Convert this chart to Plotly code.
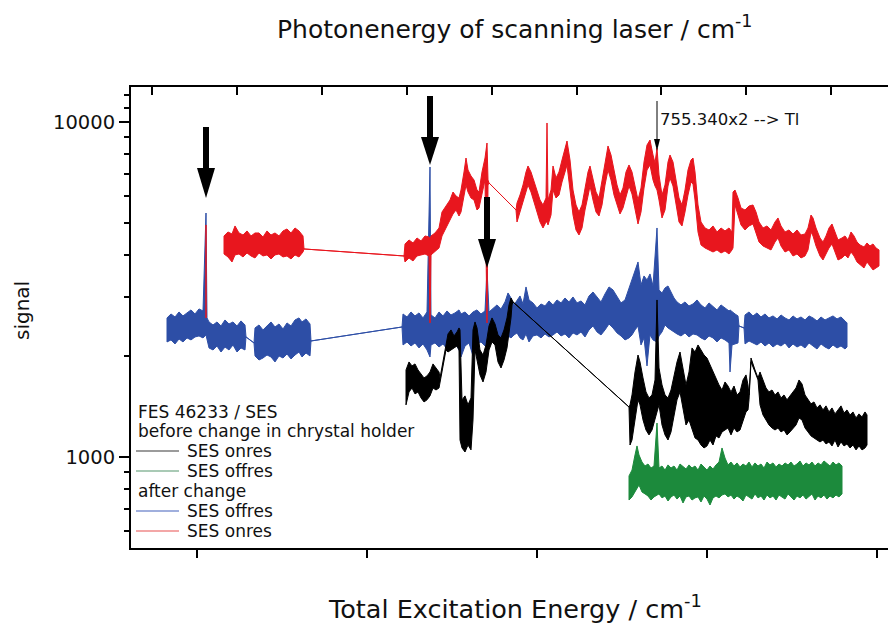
import plotly.graph_objects as go

# x: relative total excitation energy (cm^-1, arbitrary offset; the original shows no tick labels)
# signal: counts (log scale).  Each noisy scan is stored as its upper / lower envelope,
# segments separated by None.

# ---- after change: SES onres (red) ----
red_x = [9, None,
         27, 31, 35, 38, 42, 46, 50, 54, 58, 62, 66, 70, 74, 78, 82, 86, 90, 94, 98, 102, 106, 107,
         207, 208, 212, 216, 220, 224, 228, 232, 233, 234, 238, 242, 245, 249, 253, 256, 259, 262,
         264, 267, 269, 271, 274, 277, 280, 282, 285, 288, 290, 291, 292, 319, 320, 323, 326, 329,
         331, 334, 337, 340, 343, 346, 349, 350, 351, 354, 356, 359, 362, 365, 368, 370, 373, 376,
         379, 382, 385, 388, 391, 393, 396, 399, 402, 405, 408, 411, 414, 417, 420, 423, 426, 429,
         432, 435, 438, 441, 444, 447, 450, 453, 456, 458, 460, 462, 465, 468, 471, 473, 476, 479,
         482, 485, 488, 491, 494, 496, 498, 501, 504, 508, 512, 516, 520, 524, 528, 532, 535, 536,
         538, 541, 544, 548, 552, 556, 559, 562, 566, 570, 574, 578, 581, 584, 588, 592, 596, 600,
         604, 608, 611, 614, 616, 619, 623, 626, 629, 632, 635, 638, 641, 645, 648, 651, 654, 657,
         660, 663, 667, 670, 673, 676, 679, 682]
red_hi = [4928, None,
          4569, 4696, 4632, 4894, 4664, 4600, 4729, 4569, 4664, 4664, 4537, 4729, 4600, 4664, 4569, 4729, 4794, 4664, 4827, 4729, 4569, 4178,
          3982, 4324, 4445, 4354, 4506, 4414, 4569, 4537, 4445, 4569, 4664, 4827, 5387, 5614, 5851, 6181, 6013, 5931,
          6267, 7092, 7808, 7190, 6900, 6713, 6267, 6181, 7092, 7808, 8656, 6713, 6576, 5462, 5731, 6055, 6486, 7092,
          7391, 7092, 6621, 6181, 5851, 5653, 5931, 9932, 5851, 6267, 7391, 6806, 7092, 7702, 8364, 8776, 7702, 6267,
          5653, 5387, 5653, 6353, 7092, 7391, 6806, 6181, 5931, 6621, 7596, 8480, 7971, 7190, 6486, 6055, 6353, 7092,
          7442, 7092, 6486, 5851, 6353, 7596, 8538, 8836, 7971, 7545, 8364, 6947, 6055, 6486, 7596, 7971, 7596, 6713,
          5931, 5653, 6267, 7190, 7702, 7808, 7092, 5653, 5030, 4827, 4761, 4894, 4696, 4827, 4729, 4827, 4696, 6181,
          6267, 5931, 5538, 5462, 5614, 5653, 5387, 5030, 4827, 4894, 4761, 5030, 5170, 4894, 4696, 4761, 4632, 4761,
          4600, 4632, 4827, 5277, 5170, 4827, 4506, 4384, 4569, 4827, 4961, 4696, 4445, 4506, 4569, 4445, 4696, 4569,
          4384, 4295, 4236, 4354, 4265, 4324, 4207, 4150]
red_lo = [2601, None,
          4037, 3955, 3821, 4010, 4037, 3955, 4065, 3982, 3928, 4065, 3982, 4010, 3901, 4010, 4037, 3955, 3982, 3901, 4010, 3955, 4093, 4178,
          3982, 3821, 3928, 3848, 3982, 4010, 4037, 3982, 2513, 4010, 4093, 4207, 4569, 4827, 5100, 5314, 5462, 5241,
          5387, 6013, 6486, 6181, 5931, 5851, 5462, 5538, 6055, 6713, 2513, 6486, 6576, 5462, 5030, 5387, 5771, 6181,
          6486, 6181, 5851, 5387, 5030, 4827, 5030, 5030, 4928, 5277, 6267, 5931, 6055, 6621, 7092, 7442, 6267, 5277,
          4761, 4600, 4827, 5462, 6013, 6441, 5851, 5387, 5241, 5653, 6486, 7190, 6713, 6055, 5653, 5314, 5538, 6013,
          6441, 6096, 5538, 4961, 5387, 6353, 7190, 7442, 6713, 6441, 6267, 5851, 5170, 5462, 6441, 6806, 6441, 5653,
          5030, 4894, 5387, 6055, 6621, 6531, 5851, 4696, 4295, 4207, 4150, 4093, 4150, 4065, 4121, 4037, 4150, 4207,
          5653, 5277, 4928, 4761, 4894, 4961, 4696, 4384, 4265, 4207, 4150, 4384, 4506, 4265, 4093, 4150, 3982, 4037,
          3928, 3982, 4150, 4696, 4569, 4265, 3982, 3874, 4037, 4207, 4324, 4093, 3874, 3928, 4010, 3928, 4093, 3982,
          3821, 3743, 3667, 3821, 3718, 3617, 3667, 3718]

# ---- after change: SES offres (blue) ----
blue_x = [-30, -26, -22, -18, -14, -10, -6, -2, 2, 6, 9, 10, 12, 16, 20, 24, 28, 32, 36, 40, 44, 48, 49,
          57, 58, 62, 66, 70, 74, 78, 82, 86, 90, 94, 98, 102, 105, 109, 113, 114, 205,
          206, 210, 214, 218, 222, 226, 230, 233, 234, 238, 242, 246, 250, 254, 258, 262, 264, 268, 272,
          276, 280, 284, 288, 290, 292, 296, 300, 304, 308, 311, 314, 317, 320, 323, 326, 329, 332, 336,
          340, 344, 348, 352, 356, 360, 364, 368, 372, 376, 380, 384, 388, 392, 396, 400, 404, 408, 412,
          416, 420, 424, 428, 432, 435, 438, 441, 444, 447, 450, 453, 456, 460, 462, 465, 468, 471, 474,
          477, 480, 484, 488, 492, 496, 500, 504, 508, 512, 516, 520, 524, 528, 532, 533, 535, 538, 541,
          542, 547, 548, 552, 556, 560, 564, 568, 572, 576, 580, 584, 588, 592, 596, 600, 604, 608, 612,
          616, 620, 624, 628, 632, 636, 640, 644, 648, 650]
blue_hi = [2601, 2673, 2618, 2710, 2637, 2692, 2748, 2673, 2767, 2729, 5350, 2601, 2530, 2478, 2530, 2461, 2565, 2495, 2530, 2461, 2548, 2478, 2282,
           2190, 2428, 2478, 2395, 2461, 2530, 2444, 2495, 2411, 2513, 2461, 2565, 2601, 2530, 2583, 2495, 2220, 2444,
           2673, 2618, 2710, 2637, 2692, 2601, 2710, 7340, 2655, 2601, 2710, 2637, 2729, 2655, 2692, 2748, 2673, 2710, 2637,
           2710, 2748, 2673, 2729, 3642, 2710, 2786, 2844, 2767, 2903, 3088, 2983, 2844, 2943, 3025, 2863, 3218, 2943, 2883,
           2786, 2863, 2824, 2923, 2844, 2943, 2883, 2983, 2903, 3004, 2883, 2923, 2844, 3025, 3109, 3004, 2903, 3067, 3218,
           3153, 3025, 2883, 2943, 3196, 3377, 3567, 3821, 3263, 3471, 3377, 3519, 3240, 4827, 3153, 3088, 3196, 3240, 3109,
           2983, 2903, 2844, 2903, 2824, 2863, 2943, 2844, 2786, 2883, 2805, 2748, 2844, 2786, 2729, 2748, 2710, 2673, 2637,
           2461, 2428, 2655, 2710, 2637, 2692, 2618, 2673, 2601, 2637, 2583, 2655, 2601, 2565, 2637, 2583, 2618, 2565, 2637,
           2601, 2548, 2618, 2565, 2601, 2637, 2583, 2618, 2548, 2513]
blue_lo = [2205, 2236, 2175, 2251, 2205, 2267, 2236, 2282, 2298, 2267, 2314, 2236, 2116, 2087, 2145, 2058, 2130, 2087, 2160, 2058, 2116, 2087, 2282,
           2190, 2003, 1948, 1975, 2016, 1989, 1922, 2003, 1975, 2030, 1962, 2016, 2058, 1989, 2044, 2003, 2220, 2444,
           2160, 2205, 2145, 2190, 2116, 2175, 2087, 1989, 2160, 2190, 2130, 2175, 2101, 2160, 2190, 2087, 1989, 2145, 2190,
           2003, 2175, 2205, 2145, 2160, 2190, 2236, 2205, 2267, 2236, 2298, 2267, 2314, 2346, 2267, 2236, 2330, 2205, 2298,
           2314, 2267, 2330, 2282, 2314, 2362, 2298, 2330, 2267, 2346, 2314, 2362, 2282, 2395, 2461, 2362, 2314, 2395, 2495,
           2428, 2346, 2298, 2236, 2267, 2314, 2395, 2461, 2160, 2267, 1870, 2314, 2236, 2205, 2298, 2362, 2478, 2428, 2395,
           2362, 2330, 2298, 2346, 2282, 2330, 2314, 2267, 2236, 2298, 2267, 2205, 2267, 2236, 2190, 1794, 2160, 2175, 2190,
           2461, 2428, 2175, 2220, 2190, 2160, 2205, 2145, 2190, 2130, 2175, 2145, 2190, 2116, 2175, 2130, 2160, 2116, 2190,
           2145, 2101, 2175, 2130, 2101, 2160, 2116, 2145, 2101, 2130]

# ---- before change in crystal holder: SES onres (black) ----
black_x = [209, 212, 215, 218, 221, 224, 227, 230, 233, 236, 239, 242, 243, 249, 251, 254, 257, 260, 262, 263,
           265, 268, 271, 274, 276, 278, 280, 283, 286, 289, 292, 295, 298, 301, 304, 307, 310, 312, 314, 315,
           316, 432, 433, 435, 438, 441, 443, 446, 449, 452, 455, 458, 460, 462, 465, 468, 471, 474, 477, 480,
           483, 486, 489, 492, 495, 498, 501, 504, 507, 510, 513, 516, 519, 522, 525, 528, 531, 534, 537, 540,
           543, 546, 549, 551, 552, 554, 558, 561, 563, 566, 569, 572, 575, 578, 581, 584, 587, 590, 593, 596,
           599, 602, 605, 608, 611, 614, 617, 620, 623, 626, 629, 632, 635, 638, 641, 644, 647, 650, 653, 656,
           659, 662, 665, 668, 670]
black_hi = [1819, 1922, 1870, 1896, 1819, 1770, 1722, 1746, 1794, 1896, 1844, 1794, 1722, 2160, 2330, 2395, 2298, 2362, 2428, 2395,
            1481, 1522, 1431, 1501, 2395, 2530, 2428, 2087, 2016, 2160, 2461, 2601, 2495, 2314, 2267, 2395, 2601, 2844, 2983, 2943,
            2903, 1410, 1431, 1532, 1794, 2016, 1922, 1722, 1564, 1501, 1532, 1698, 2943, 1844, 1641, 1532, 1501, 1585, 1758, 1922,
            2058, 1844, 1641, 1794, 2116, 2058, 2160, 2087, 2016, 1975, 1883, 1794, 1722, 1641, 1585, 1675, 1629, 1564, 1629, 1532,
            1564, 1698, 1758, 1641, 1532, 1975, 1819, 1722, 1794, 1698, 1607, 1564, 1585, 1532, 1564, 1501, 1532, 1481, 1522, 1564,
            1607, 1698, 1652, 1532, 1481, 1441, 1460, 1401, 1431, 1382, 1421, 1363, 1401, 1345, 1382, 1421, 1354, 1382, 1335, 1363,
            1308, 1345, 1317, 1363, 1335]
black_lo = [1431, 1564, 1607, 1543, 1564, 1501, 1460, 1481, 1522, 1607, 1585, 1607, 1652, 2087, 2058, 2087, 2116, 2145, 2087, 1124,
            1064, 1035, 1086, 1050, 1290, 2087, 1948, 1758, 1675, 1794, 2087, 2205, 2160, 1922, 1844, 1948, 2116, 2362, 2601, 2844,
            2903, 1410, 1086, 1124, 1290, 1481, 1431, 1290, 1204, 1164, 1204, 1290, 1363, 1431, 1246, 1164, 1124, 1188, 1308, 1481,
            1564, 1382, 1246, 1290, 1204, 1140, 1124, 1086, 1064, 1079, 1124, 1086, 1156, 1140, 1188, 1204, 1221, 1164, 1221, 1188,
            1204, 1290, 1363, 1382, 1481, 1922, 1794, 1698, 1431, 1335, 1290, 1246, 1221, 1204, 1221, 1188, 1204, 1164, 1188, 1221,
            1246, 1308, 1290, 1221, 1188, 1156, 1140, 1124, 1109, 1124, 1094, 1109, 1079, 1124, 1071, 1109, 1079, 1094, 1064, 1086,
            1050, 1079, 1050, 1064, 1086]

# ---- before change in crystal holder: SES offres (green) ----
green_x = [432, 435, 438, 440, 442, 445, 448, 451, 454, 457, 460, 462, 465, 468, 471, 474, 477, 480, 483, 486,
           489, 492, 495, 498, 501, 504, 507, 510, 513, 516, 519, 522, 525, 528, 531, 534, 537, 540, 543, 546,
           549, 552, 555, 558, 561, 564, 567, 570, 573, 576, 579, 582, 585, 588, 591, 594, 597, 600, 603, 606,
           609, 612, 615, 618, 621, 624, 627, 630, 633, 636, 639, 642, 645]
green_hi = [878, 914, 1014, 1079, 1014, 966, 940, 953, 927, 940, 1263, 927, 940, 914, 947, 927, 940, 914, 953, 934,
            921, 947, 927, 940, 914, 953, 934, 914, 940, 921, 947, 966, 1064, 993, 947, 966, 940, 960, 934, 953,
            940, 966, 934, 960, 940, 953, 927, 966, 947, 960, 934, 953, 940, 960, 947, 966, 940, 953, 973, 940,
            960, 947, 966, 940, 960, 947, 973, 953, 940, 966, 947, 960, 940]
green_lo = [744, 760, 786, 808, 825, 786, 776, 765, 744, 760, 770, 776, 755, 765, 739, 760, 770, 749, 765, 729,
            760, 765, 744, 755, 760, 734, 765, 749, 719, 755, 765, 755, 770, 776, 760, 770, 749, 765, 755, 739,
            770, 760, 749, 776, 755, 765, 744, 770, 755, 765, 744, 770, 760, 749, 776, 760, 744, 765, 755, 770,
            749, 760, 776, 744, 765, 755, 770, 749, 765, 755, 770, 760, 776]

bottom_ticks = [0, 170, 340, 510, 680]
top_ticks = [-45, 40, 125, 210, 295, 380, 464, 549, 634]
y_major = [1000, 10000]
y_major_text = ["1000", "10000"]
y_minor = [600, 700, 800, 900, 2000, 3000, 4000, 5000, 6000, 7000, 8000, 9000, 11000, 12000]
arrow_x = [9, 233, 290]          # positions of the big arrows
tl_line_x = 460                  # 755.340x2 --> Tl

RED = "#e8161e"
BLUE = "#2d4ea6"
BLACK = "#000000"
GREEN = "#1c8a3c"
FONT = "DejaVu Sans"

W, H = 888, 624
L, R, T, B = 131, 0, 87, 76
PW, PH = W - L - R, H - T - B


def fx(px):
    return (px - L) / PW


def fy(py):
    return (H - B - py) / PH


def band(xs, hi, lo):
    segs, cur = [], []
    for x, h, l in zip(xs, hi, lo):
        if x is None:
            segs.append(cur)
            cur = []
        else:
            cur.append((x, h, l))
    segs.append(cur)
    X, Y = [], []
    for s in segs:
        sx = [p[0] for p in s]
        sh = [p[1] for p in s]
        sl = [p[2] for p in s]
        X += sx + sx[::-1] + [sx[0], None]
        Y += sh + sl[::-1] + [sh[0], None]
    return X, Y


fig = go.Figure()
for xs, hi, lo, col, name in [
    (blue_x, blue_hi, blue_lo, BLUE, "after change SES offres"),
    (green_x, green_hi, green_lo, GREEN, "before change SES offres"),
    (black_x, black_hi, black_lo, BLACK, "before change SES onres"),
    (red_x, red_hi, red_lo, RED, "after change SES onres"),
]:
    X, Y = band(xs, hi, lo)
    fig.add_trace(go.Scatter(x=X, y=Y, mode="lines", fill="toself", fillcolor=col,
                             line=dict(color=col, width=1), name=name,
                             showlegend=False, hoverinfo="skip", connectgaps=False))

# dummy trace to activate the top axis
fig.add_trace(go.Scatter(x=[top_ticks[0]], y=[1000], xaxis="x2", mode="lines",
                         showlegend=False, hoverinfo="skip"))

shapes = []
# big black arrows: (shaft top, shaft bottom, head top, tip) in image rows
arrow_rows = [(127, 172, 168, 198), (96, 140, 137, 165), (197, 242, 239, 268)]
for ax_, (st, sb, ht, tip) in zip(arrow_x, arrow_rows):
    shapes.append(dict(type="rect", xref="x", yref="paper", x0=ax_ - 3, x1=ax_ + 3,
                       y0=fy(sb), y1=fy(st), fillcolor="black", line=dict(width=0)))
    shapes.append(dict(type="path", xref="x", yref="paper",
                       path=f"M {ax_-9},{fy(ht)} L {ax_+9},{fy(ht)} L {ax_},{fy(tip)} Z",
                       fillcolor="black", line=dict(width=0)))

# thin arrow marking the Tl line
shapes.append(dict(type="line", xref="x", yref="paper", x0=tl_line_x, x1=tl_line_x,
                   y0=fy(101), y1=fy(142), line=dict(color="black", width=1)))
shapes.append(dict(type="path", xref="x", yref="paper",
                   path=f"M {tl_line_x-3},{fy(139)} L {tl_line_x+3},{fy(139)} L {tl_line_x},{fy(151)} Z",
                   fillcolor="black", line=dict(width=0)))

# legend
leg_lines = [(451, "#7a7a7a"), (471, "#8db89c"), (511, "#8094d2"), (531, "#ef8a8a")]
for yy, c in leg_lines:
    shapes.append(dict(type="line", xref="paper", yref="paper", x0=fx(136), x1=fx(179),
                       y0=fy(yy), y1=fy(yy), line=dict(color=c, width=1.5)))

ann = []
leg_text = [(136, 412, "FES 46233 / SES"), (136, 431, "before change in chrystal holder"),
            (185, 451, "SES onres"), (185, 471, "SES offres"), (136, 491, "after change"),
            (185, 511, "SES offres"), (185, 531, "SES onres")]
for xx, yy, t in leg_text:
    ann.append(dict(xref="paper", yref="paper", x=fx(xx), y=fy(yy), text=t, showarrow=False,
                    xanchor="left", yanchor="middle", font=dict(family=FONT, size=17, color="#111")))

ann.append(dict(xref="x", yref="paper", x=tl_line_x + 1, y=fy(120), text="755.340x2 --> Tl",
                showarrow=False, xanchor="left", yanchor="middle",
                font=dict(family=FONT, size=16.5, color="#111")))

ann.append(dict(xref="paper", yref="paper", x=fx(514), y=fy(27), showarrow=False,
                text="Photonenergy of scanning laser / cm<sup>-1</sup>", xanchor="center", yanchor="middle",
                font=dict(family=FONT, size=25, color="#111")))
ann.append(dict(xref="paper", yref="paper", x=fx(515), y=fy(607), showarrow=False,
                text="Total Excitation Energy / cm<sup>-1</sup>", xanchor="center", yanchor="middle",
                font=dict(family=FONT, size=25.5, color="#111")))
ann.append(dict(xref="paper", yref="paper", x=fx(22), y=fy(310), showarrow=False, textangle=-90,
                text="signal", xanchor="center", yanchor="middle",
                font=dict(family=FONT, size=20, color="#111")))

fig.update_layout(
    width=W, height=H,
    margin=dict(l=L, r=R, t=T, b=B, pad=0),
    paper_bgcolor="white", plot_bgcolor="white",
    showlegend=False,
    shapes=shapes, annotations=ann,
    xaxis=dict(range=[-66, 691], showline=True, linecolor="black", linewidth=2,
               ticks="outside", ticklen=8, tickwidth=2, tickcolor="black",
               tickvals=bottom_ticks, showticklabels=False, showgrid=False, zeroline=False),
    xaxis2=dict(range=[-66, 691], overlaying="x", side="top", showline=True, linecolor="black",
                linewidth=2, ticks="inside", ticklen=8, tickwidth=2, tickcolor="black",
                tickvals=top_ticks, showticklabels=False, showgrid=False, zeroline=False),
    yaxis=dict(type="log", range=[2.72836, 4.10448], showline=True, linecolor="black", linewidth=2,
               ticks="outside", ticklen=10, tickwidth=2, tickcolor="black",
               tickvals=y_major, ticktext=y_major_text,
               tickfont=dict(family=FONT, size=19.5, color="#111"),
               minor=dict(ticks="outside", ticklen=5, tickwidth=2, tickcolor="black", tickvals=y_minor),
               showgrid=False, zeroline=False),
)

fig.write_html("out.html")
